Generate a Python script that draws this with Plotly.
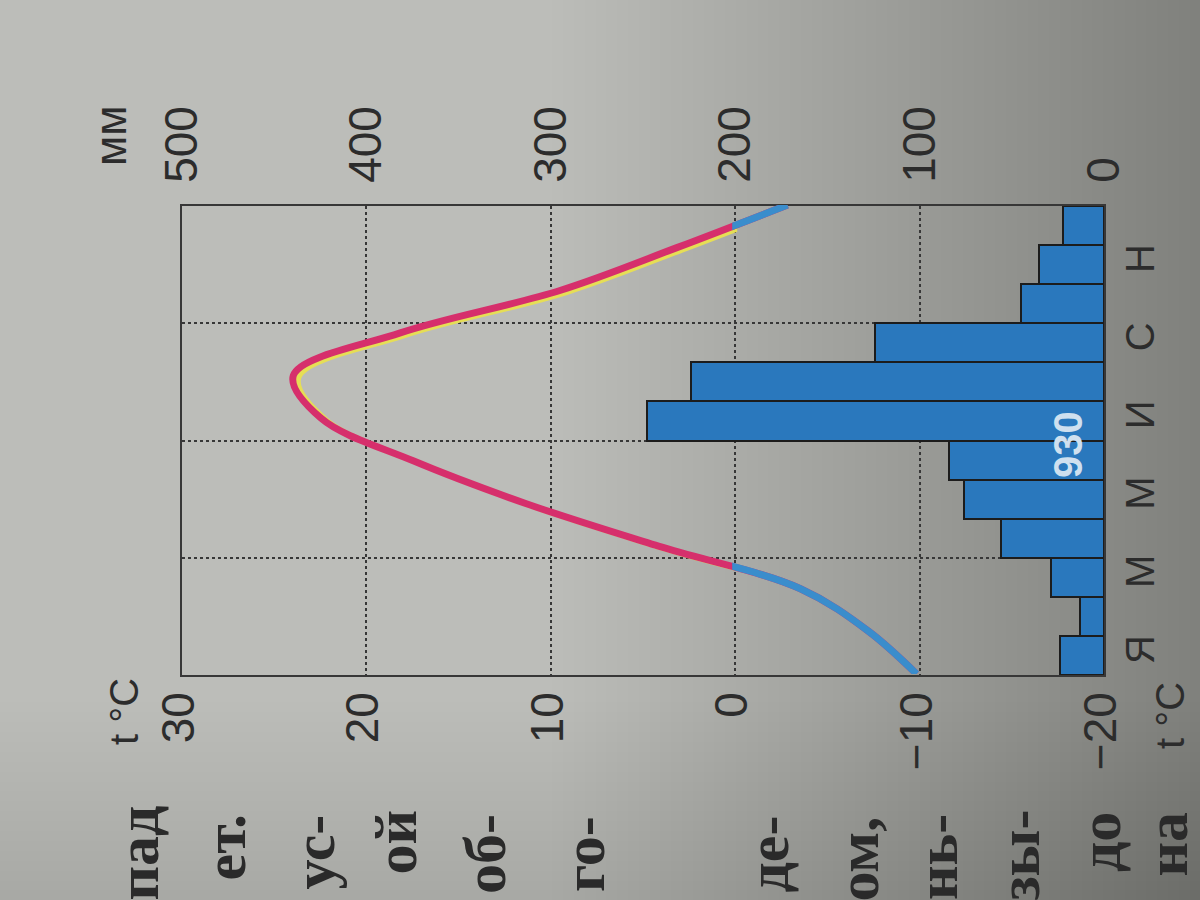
import plotly.graph_objects as go

# climate chart from a textbook page, photographed turned on its side
months = ["Я", "Ф", "М", "А", "М", "И", "И", "А", "С", "О", "Н", "Д"]
month_ticks = [0, 2, 4, 6, 8, 10]
month_ticktext = ["Я", "М", "М", "И", "С", "Н"]
precip_mm = [24, 13, 29, 56, 76, 84, 248, 224, 124, 45, 35, 22]
temp_c = [-10, -7.4, -3.7, 4.0, 11.2, 17.3, 22.3, 23.8, 18.0, 9.3, 3.0, -3.0]
precip_ticks = [0, 100, 200, 300, 400, 500]
temp_ticks = [30, 20, 10, 0, -10, -20]
temp_ticktext = ["30", "20", "10", "0", "−10", "−20"]
total_label = "930"
page_words = ["пад", "ет.", "ус-", "ой", "об-", "го-", "де-", "ом,", "нь-", "зы-", "до", "на"]

W, H = 1200, 900
INK = "#2c2c2c"
GRID = "#373737"


def px(x):
    return x / W


def py(y):
    return 1 - y / H


# frame of the chart inside the photo
dx = [px(182), px(1104)]
dy = [py(675), py(206)]
zero_frac = (30 - 0) / (30 - (-20))

# red line sits a little left of its yellow print shadow
red_dx = [dx[0] - 3 / W, dx[1] - 3 / W]
red_dy = [dy[0] + 1 / H, dy[1] + 1 / H]
yel_dx = [dx[0] + 2 / W, dx[0] + 2 / W + zero_frac * (dx[1] - dx[0])]
yel_dy = [dy[0] - 1 / H, dy[1] - 1 / H]
blue_dx = [red_dx[0] + zero_frac * (red_dx[1] - red_dx[0]), red_dx[1]]

idx = list(range(12))

fig = go.Figure()

fig.add_trace(go.Bar(x=precip_mm, y=idx, orientation="h", xaxis="x", yaxis="y",
                     width=1, hovertext=months,
                     marker=dict(color="#2a78bd", line=dict(color="#1c1c1c", width=2)),
                     showlegend=False))

# yellow only where t > 0, red on top, blue where t < 0
fig.add_trace(go.Scatter(x=temp_c, y=idx, xaxis="x3", yaxis="y3", mode="lines",
                         line=dict(color="#e6de55", width=6, shape="spline"),
                         showlegend=False))
fig.add_trace(go.Scatter(x=temp_c, y=idx, xaxis="x4", yaxis="y4", mode="lines",
                         line=dict(color="#d62f6c", width=7, shape="spline"),
                         showlegend=False))
fig.add_trace(go.Scatter(x=temp_c, y=idx, xaxis="x5", yaxis="y5", mode="lines",
                         line=dict(color="#3a8dcc", width=7, shape="spline"),
                         showlegend=False))

tick_font = dict(family="Liberation Sans", size=46, color=INK)
hidden = dict(visible=False, automargin=False)

fig.update_layout(
    width=W, height=H,
    margin=dict(l=0, r=0, t=0, b=0),
    paper_bgcolor="#bcbdb9",
    plot_bgcolor="rgba(0,0,0,0)",
    bargap=0,
    xaxis=dict(domain=dx, range=[500, 0], side="top", anchor="y", automargin=False,
               tickvals=precip_ticks, tickangle=-90, tickfont=tick_font,
               ticks="", ticklabelstandoff=12,
               showgrid=True, gridcolor=GRID, griddash="dot", gridwidth=2,
               showline=True, mirror=True, linecolor=GRID, linewidth=2,
               zeroline=False),
    yaxis=dict(domain=dy, range=[-0.5, 11.5], side="right", anchor="x", automargin=False,
               tickvals=month_ticks, ticktext=month_ticktext, tickangle=-90,
               tickfont=dict(family="Liberation Sans", size=40, color=INK),
               ticks="", ticklabelstandoff=0, showgrid=False,
               minor=dict(tickmode="array", tickvals=[2.5, 5.5, 8.5], showgrid=True,
                          gridcolor=GRID, griddash="dot", gridwidth=2, ticks=""),
               showline=True, mirror=True, linecolor=GRID, linewidth=2,
               zeroline=False),
    xaxis3=dict(domain=yel_dx, range=[30, 0], anchor="y3", **hidden),
    yaxis3=dict(domain=yel_dy, range=[0, 11], anchor="x3", **hidden),
    # temperature scale, carried by the red line's axis
    xaxis4=dict(domain=red_dx, range=[30, -20], anchor="y4", side="bottom", automargin=False,
                tickvals=temp_ticks, ticktext=temp_ticktext, tickangle=-90,
                tickfont=tick_font, ticks="", ticklabelstandoff=8,
                showgrid=False, showline=False, zeroline=False),
    yaxis4=dict(domain=red_dy, range=[0, 11], anchor="x4", **hidden),
    xaxis5=dict(domain=blue_dx, range=[0, -20], anchor="y5", **hidden),
    yaxis5=dict(domain=red_dy, range=[0, 11], anchor="x5", **hidden),
)

# the page gets darker toward the right and bottom of the photo
for i in range(60):
    fig.add_shape(type="rect", xref="paper", yref="paper", x0=0.46 + i * 0.009, x1=1,
                  y0=0, y1=1, fillcolor="rgba(10,42,42,0.0045)", line_width=0, layer="below")
for i in range(20):
    fig.add_shape(type="rect", xref="paper", yref="paper", x0=0, x1=1,
                  y0=0, y1=0.22 - i * 0.011, fillcolor="rgba(10,42,42,0.005)",
                  line_width=0, layer="below")

# axis captions and the yearly total
fig.add_annotation(text="мм", x=px(110), y=py(135), xref="paper", yref="paper",
                   xanchor="center", yanchor="middle", textangle=-90, showarrow=False,
                   font=dict(family="Liberation Sans", size=44, color=INK))
fig.add_annotation(text="t °C", x=px(124), y=py(712), xref="paper", yref="paper",
                   xanchor="center", yanchor="middle", textangle=-90, showarrow=False,
                   font=dict(family="Liberation Sans", size=40, color=INK))
fig.add_annotation(text="t °C", x=px(1170), y=py(716), xref="paper", yref="paper",
                   xanchor="center", yanchor="middle", textangle=-90, showarrow=False,
                   font=dict(family="Liberation Sans", size=40, color=INK))
fig.add_annotation(text="<b>" + total_label + "</b>", x=px(1068), y=py(445),
                   xref="paper", yref="paper", xanchor="center", yanchor="middle",
                   textangle=-90, showarrow=False,
                   font=dict(family="Liberation Sans", size=40, color="#cfe0ef"))

# ends of the body-text lines of the book page
word_pos = [(137, 804), (224, 812), (313, 812), (395, 808), (485, 812), (584, 814),
            (767, 814), (857, 814), (937, 812), (1018, 808), (1100, 810), (1166, 810)]
for w, (wx, wy) in zip(page_words, word_pos):
    fig.add_annotation(text="<b>" + w + "</b>", x=px(wx), y=py(wy), xref="paper", yref="paper",
                       xanchor="center", yanchor="top", textangle=-90, showarrow=False,
                       font=dict(family="Liberation Serif", size=60, color="#2a2a2a"))

fig.write_html("out.html", config={"displayModeBar": False},
               post_script="document.body.style.margin = '0';")
